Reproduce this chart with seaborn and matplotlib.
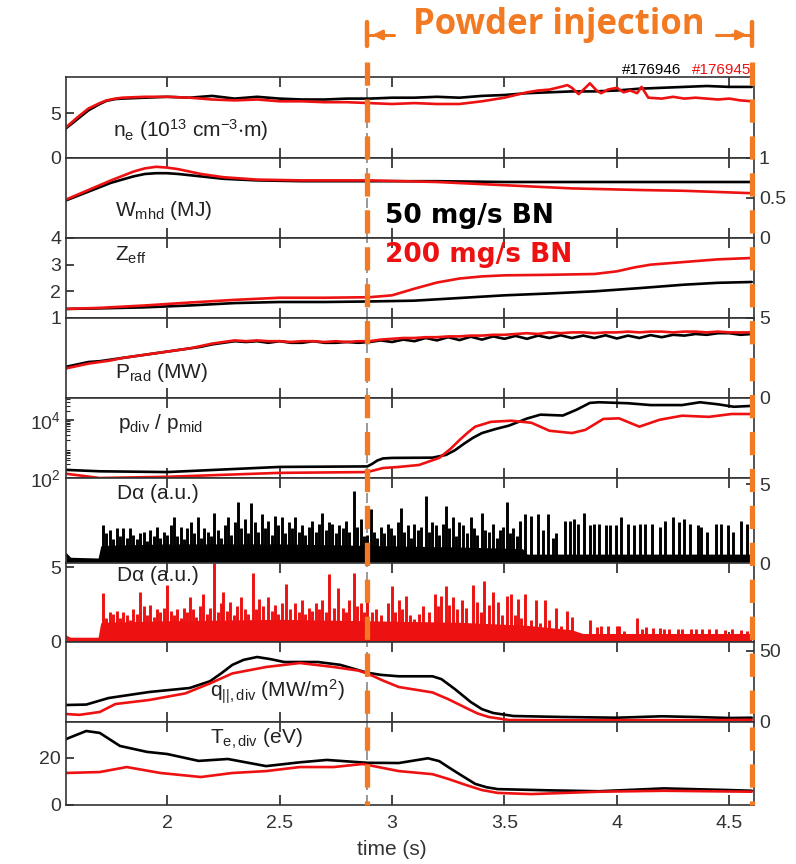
import numpy as np
import pandas as pd
import seaborn as sns
import matplotlib.pyplot as plt
from matplotlib.lines import Line2D
from matplotlib.ticker import LogFormatterMathtext
import matplotlib.transforms as mtransforms

# ---- data ----
# line density (1e13 cm^-3 m)
ne_t_k = [1.55, 1.6, 1.65, 1.7, 1.73, 1.77, 1.8, 1.9, 2.0, 2.1, 2.2, 2.3, 2.4, 2.5, 2.6, 2.7, 2.8,
          2.9, 3.0, 3.1, 3.2, 3.3, 3.4, 3.5, 3.6, 3.7, 3.8, 3.9, 4.0, 4.1, 4.2, 4.3, 4.4, 4.5, 4.6]
ne_k = [3.3, 4.3, 5.3, 6.0, 6.35, 6.55, 6.6, 6.7, 6.8, 6.7, 6.9, 6.6, 6.8, 6.6, 6.5, 6.5, 6.6,
        6.6, 6.7, 6.7, 6.8, 6.7, 6.9, 7.0, 7.2, 7.3, 7.4, 7.4, 7.5, 7.7, 7.8, 7.9, 8.0, 7.9, 7.9]
ne_t_r = [1.55, 1.6, 1.65, 1.7, 1.73, 1.77, 1.8, 1.9, 2.0, 2.1, 2.2, 2.3, 2.4, 2.5, 2.6, 2.7, 2.8,
          2.9, 3.0, 3.1, 3.2, 3.3, 3.4, 3.5, 3.55, 3.6, 3.65, 3.7, 3.75, 3.78, 3.8, 3.83, 3.86,
          3.88, 3.91, 3.93, 3.96, 4.0, 4.03, 4.06, 4.09, 4.11, 4.14, 4.2, 4.25, 4.3, 4.35, 4.4,
          4.45, 4.5, 4.55, 4.6]
ne_r = [3.4, 4.5, 5.5, 6.1, 6.4, 6.6, 6.7, 6.8, 6.8, 6.7, 6.5, 6.4, 6.5, 6.3, 6.3, 6.2, 6.2,
        6.1, 6.0, 6.1, 6.0, 6.0, 6.3, 6.7, 7.0, 7.3, 7.5, 7.6, 7.9, 8.1, 7.8, 7.1, 7.8,
        8.3, 7.5, 7.2, 7.6, 7.8, 7.3, 7.5, 7.2, 7.9, 6.7, 6.6, 6.8, 6.6, 6.7, 6.6,
        6.5, 6.6, 6.4, 6.3]

# stored energy (MJ)
w_t_k = [1.55, 1.65, 1.75, 1.85, 1.9, 1.95, 2.0, 2.05, 2.15, 2.25, 2.4, 2.6, 2.9, 3.2, 3.5, 4.0, 4.6]
w_k = [0.47, 0.58, 0.69, 0.77, 0.80, 0.81, 0.81, 0.80, 0.77, 0.74, 0.72, 0.71, 0.71, 0.71, 0.70,
       0.70, 0.70]
w_t_r = [1.55, 1.65, 1.75, 1.85, 1.9, 1.95, 2.0, 2.05, 2.15, 2.25, 2.4, 2.6, 2.9, 3.2, 3.5, 3.8,
         4.1, 4.3, 4.6]
w_r = [0.48, 0.60, 0.72, 0.83, 0.87, 0.89, 0.88, 0.86, 0.80, 0.76, 0.73, 0.72, 0.72, 0.70, 0.66,
       0.62, 0.60, 0.59, 0.56]

# Zeff
z_t_k = [1.55, 1.7, 1.9, 2.1, 2.3, 2.5, 2.7, 2.9, 3.1, 3.3, 3.5, 3.7, 3.9, 4.1, 4.3, 4.45, 4.6]
z_k = [1.34, 1.36, 1.40, 1.47, 1.56, 1.60, 1.60, 1.62, 1.65, 1.75, 1.85, 1.92, 2.00, 2.12, 2.25, 2.32, 2.35]
z_t_r = [1.55, 1.7, 1.9, 2.1, 2.3, 2.5, 2.7, 2.9, 3.0, 3.1, 3.2, 3.3, 3.4, 3.5, 3.7, 3.9, 4.0,
         4.08, 4.15, 4.3, 4.45, 4.6]
z_r = [1.34, 1.38, 1.47, 1.58, 1.68, 1.76, 1.76, 1.78, 1.85, 2.1, 2.33, 2.48, 2.56, 2.6, 2.62,
       2.65, 2.75, 2.9, 3.0, 3.1, 3.2, 3.25]

# radiated power (MW)
p_t = [1.55, 1.6, 1.65, 1.7, 1.75, 1.8, 1.85, 1.9, 1.95, 2.0, 2.05, 2.1, 2.15, 2.2, 2.25, 2.3,
       2.35, 2.4, 2.45, 2.5, 2.55, 2.6, 2.65, 2.7, 2.75, 2.8, 2.85, 2.9, 2.95, 3.0, 3.05, 3.1,
       3.15, 3.2, 3.25, 3.3, 3.35, 3.4, 3.45, 3.5, 3.55, 3.6, 3.65, 3.7, 3.75, 3.8, 3.85, 3.9,
       3.95, 4.0, 4.05, 4.1, 4.15, 4.2, 4.25, 4.3, 4.35, 4.4, 4.45, 4.5, 4.55, 4.6]
prad_k = [1.95, 2.1, 2.25, 2.3, 2.4, 2.5, 2.6, 2.7, 2.8, 2.9, 3.0, 3.1, 3.2, 3.35, 3.45, 3.55,
          3.5, 3.55, 3.45, 3.55, 3.45, 3.45, 3.55, 3.45, 3.45, 3.5, 3.45, 3.5, 3.6, 3.5, 3.65, 3.55,
          3.75, 3.6, 3.8, 3.62, 3.83, 3.65, 3.85, 3.7, 3.88, 3.7, 3.9, 3.75, 3.92, 3.75, 3.9, 3.75,
          3.92, 3.72, 3.9, 3.75, 3.93, 3.8, 3.95, 3.9, 4.0, 3.95, 4.05, 4.05, 3.95, 4.0]
prad_r = [1.85, 2.0, 2.15, 2.25, 2.35, 2.5, 2.6, 2.7, 2.8, 2.9, 3.0, 3.1, 3.25, 3.4, 3.5, 3.6,
          3.55, 3.6, 3.55, 3.55, 3.5, 3.55, 3.55, 3.5, 3.55, 3.5, 3.55, 3.55, 3.65, 3.7, 3.75, 3.75,
          3.8, 3.8, 3.85, 3.85, 3.9, 3.9, 3.95, 3.95, 4.0, 4.05, 4.0, 4.1, 4.05, 4.1, 4.1, 4.05,
          4.1, 4.1, 4.15, 4.1, 4.15, 4.15, 4.1, 4.15, 4.15, 4.1, 4.15, 4.1, 4.1, 4.1]

# divertor / midplane pressure ratio
pd_t_k = [1.55, 1.7, 2.0, 2.5, 2.89, 2.91, 2.935, 2.96, 3.0, 3.18, 3.24, 3.28, 3.32, 3.36, 3.40,
          3.46, 3.52, 3.60, 3.66, 3.76, 3.82, 3.88, 3.92, 4.05, 4.15, 4.29, 4.37, 4.45, 4.52, 4.6]
pd_k = [190, 170, 160, 240, 250, 300, 400, 470, 490, 500, 620, 900, 1500, 2400, 3500,
        4800, 6300, 11000, 15000, 14000, 22000, 38000, 40000, 37000, 32000, 32000, 40000, 34000,
        28000, 30000]
pd_t_r = [1.55, 1.7, 2.0, 2.5, 2.89, 2.96, 3.03, 3.12, 3.21, 3.26, 3.30, 3.34, 3.37, 3.44, 3.53,
          3.62, 3.70, 3.80, 3.86, 3.94, 4.01, 4.10, 4.19, 4.29, 4.41, 4.51, 4.6]
pd_r = [140, 100, 110, 150, 160, 220, 240, 280, 490, 1000, 2000, 3800, 5800, 8500, 9300, 7900,
        4200, 3500, 4500, 10700, 11200, 5800, 10000, 13800, 12600, 15800, 15800]

# D-alpha spikes (a.u.), shot 176946
da_floor_t_k = [1.55, 1.57, 1.70, 1.712, 2.0, 2.5, 2.9, 3.3, 3.58, 3.6, 4.6]
da_floor_k = [0.55, 0.25, 0.2, 1.0, 1.1, 1.1, 1.0, 0.9, 0.8, 0.45, 0.45]
da_spk_t_k = [1.714, 1.73, 1.745, 1.76, 1.775, 1.79, 1.805, 1.82, 1.835, 1.85, 1.865, 1.88, 1.895,
              1.91, 1.925, 1.94, 1.955, 1.97, 1.985, 2.00, 2.015, 2.03, 2.045, 2.06, 2.075, 2.09,
              2.105, 2.12, 2.135, 2.15, 2.165, 2.18, 2.195, 2.21, 2.225, 2.24, 2.255, 2.27, 2.285,
              2.30, 2.315, 2.33, 2.345, 2.36, 2.375, 2.39, 2.405, 2.42, 2.435, 2.45, 2.465, 2.48,
              2.495, 2.51, 2.525, 2.54, 2.555, 2.57, 2.585, 2.60, 2.615, 2.63, 2.645, 2.66, 2.675,
              2.69, 2.705, 2.72, 2.735, 2.75, 2.765, 2.78, 2.795, 2.81, 2.83, 2.845, 2.86, 2.875,
              2.89, 2.905, 2.92, 2.935, 2.95, 2.965, 2.98, 2.995, 3.01, 3.025, 3.04, 3.055, 3.07,
              3.085, 3.10, 3.115, 3.13, 3.15, 3.165, 3.18, 3.195, 3.21, 3.225, 3.24, 3.255, 3.27,
              3.285, 3.30, 3.315, 3.335, 3.35, 3.365, 3.38, 3.40, 3.415, 3.43, 3.45, 3.465, 3.48,
              3.495, 3.51, 3.525, 3.54, 3.555, 3.57, 3.59, 3.62, 3.65, 3.672, 3.694, 3.716, 3.731,
              3.768, 3.79, 3.808, 3.827, 3.852, 3.879, 3.897, 3.919, 3.95, 3.971, 3.998, 4.02,
              4.05, 4.076, 4.101, 4.124, 4.158, 4.19, 4.216, 4.25, 4.276, 4.299, 4.327, 4.361,
              4.376, 4.402, 4.442, 4.465, 4.494, 4.516, 4.553, 4.58]
da_spk_k = [2.4, 1.9, 2.1, 1.5, 2.2, 1.7, 2.2, 1.6, 2.2, 1.8, 1.5, 1.9, 2.0,
            1.4, 2.1, 1.7, 2.3, 1.6, 2.0, 1.8, 2.4, 2.9, 1.7, 2.3, 1.5, 2.2,
            2.6, 1.9, 2.95, 1.6, 2.2, 2.0, 1.7, 3.2, 2.1, 1.6, 2.4, 2.9, 1.8,
            2.6, 3.9, 2.2, 2.8, 1.9, 3.8, 2.6, 2.0, 3.1, 2.2, 2.7, 1.8, 3.0,
            2.4, 2.9, 1.9, 2.6, 2.2, 2.95, 2.0, 2.4, 1.8, 2.3, 2.7, 2.0, 2.5,
            3.2, 2.1, 2.6, 2.5, 1.9, 2.4, 2.2, 2.7, 2.0, 4.6, 2.3, 2.8, 1.7,
            1.8, 3.4, 2.0, 1.6, 2.3, 1.9, 2.5, 2.2, 1.8, 2.6, 3.5, 2.0, 2.4,
            1.6, 2.5, 2.1, 2.3, 4.25, 2.0, 2.6, 2.4, 1.8, 2.5, 3.6, 2.2, 2.9,
            1.7, 2.6, 2.4, 1.9, 2.9, 2.2, 1.8, 3.2, 2.1, 2.0, 2.5, 1.6, 2.1,
            2.3, 3.9, 1.9, 2.2, 1.7, 2.65, 3.1, 3.0, 3.1, 2.1, 3.1, 1.6, 1.9,
            2.7, 2.7, 2.8, 2.5, 3.2, 2.4, 2.5, 2.5, 2.4, 2.4, 2.4, 2.9,
            2.5, 2.4, 2.5, 2.5, 2.5, 2.3, 2.7, 2.9, 2.6, 2.8, 2.5, 2.4,
            2.3, 2.0, 2.5, 2.5, 2.4, 2.0, 2.7, 2.5]

# D-alpha spikes (a.u.), shot 176945
da_floor_t_r = [1.55, 1.57, 1.70, 1.712, 2.0, 2.5, 2.9, 3.3, 3.6, 3.8, 3.85, 4.6]
da_floor_r = [0.35, 0.2, 0.2, 1.2, 1.3, 1.4, 1.3, 1.2, 1.0, 0.7, 0.45, 0.45]
da_spk_t_r = [1.714, 1.73, 1.745, 1.76, 1.775, 1.79, 1.805, 1.82, 1.835, 1.85, 1.865, 1.88, 1.895,
              1.91, 1.925, 1.94, 1.955, 1.97, 1.985, 2.00, 2.015, 2.03, 2.045, 2.06, 2.075, 2.09,
              2.10, 2.115, 2.13, 2.145, 2.16, 2.175, 2.19, 2.21, 2.225, 2.24, 2.25, 2.265, 2.28,
              2.295, 2.31, 2.33, 2.345, 2.36, 2.38, 2.395, 2.41, 2.425, 2.45, 2.465, 2.48, 2.495,
              2.51, 2.53, 2.545, 2.57, 2.585, 2.60, 2.615, 2.63, 2.645, 2.66, 2.675, 2.69, 2.705,
              2.72, 2.74, 2.76, 2.78, 2.795, 2.81, 2.83, 2.845, 2.86, 2.875, 2.89, 2.91, 2.93,
              2.95, 2.98, 3.00, 3.015, 3.03, 3.045, 3.06, 3.08, 3.10, 3.12, 3.14, 3.165, 3.19,
              3.205, 3.22, 3.24, 3.255, 3.27, 3.29, 3.31, 3.33, 3.36, 3.38, 3.395, 3.41, 3.43,
              3.45, 3.47, 3.49, 3.51, 3.53, 3.545, 3.56, 3.575, 3.59, 3.62, 3.64, 3.66, 3.68,
              3.70, 3.73, 3.75, 3.78, 3.80, 3.83, 3.88, 3.91, 3.93, 3.96, 4.00, 4.01, 4.03,
              4.09, 4.11, 4.13, 4.16, 4.19, 4.21, 4.23, 4.27, 4.29, 4.33, 4.35, 4.38, 4.41,
              4.44, 4.48, 4.51, 4.55, 4.58]
da_spk_r = [3.3, 1.6, 2.0, 1.9, 2.1, 1.6, 2.0, 1.8, 1.5, 2.2, 1.9, 3.35, 2.4,
            1.8, 2.5, 1.7, 2.2, 2.0, 2.3, 3.8, 2.1, 1.8, 2.2, 1.6, 2.3, 2.0,
            3.0, 2.2, 1.7, 2.4, 3.2, 1.9, 2.3, 5.3, 2.0, 2.6, 3.35, 2.1, 2.7,
            1.8, 2.4, 3.0, 2.2, 1.9, 4.6, 2.2, 2.9, 2.4, 3.0, 2.1, 2.5, 1.9,
            2.6, 3.9, 2.2, 2.6, 2.0, 2.85, 1.9, 2.3, 2.1, 2.6, 2.2, 2.85, 2.0,
            4.55, 2.3, 3.6, 2.3, 2.0, 2.8, 4.6, 2.4, 2.6, 2.0, 2.8, 2.0, 2.2,
            1.8, 2.6, 3.75, 2.0, 2.85, 2.2, 3.1, 1.8, 1.55, 1.9, 2.4, 2.0, 3.2,
            2.4, 3.1, 3.75, 2.5, 3.0, 2.2, 2.85, 2.3, 3.8, 2.7, 2.0, 4.1, 2.5,
            3.35, 2.7, 1.8, 3.1, 3.2, 1.8, 2.9, 1.6, 3.2, 1.5, 2.8, 1.3, 2.85,
            1.5, 2.3, 1.1, 2.1, 1.65, 0.6, 1.45, 1.0, 1.05, 1.1, 1.1, 1.1, 0.75,
            1.6, 0.9, 1.0, 0.95, 0.95, 0.85, 0.85, 0.85, 0.85, 0.85, 0.9, 0.9, 0.9,
            0.85, 0.8, 0.9, 0.8, 0.75]

# parallel heat flux (MW/m^2)
q_t_k = [1.55, 1.64, 1.74, 1.92, 2.10, 2.19, 2.24, 2.29, 2.34, 2.40, 2.46, 2.52, 2.67, 2.77,
         2.89, 2.95, 3.03, 3.18, 3.22, 3.28, 3.35, 3.40, 3.45, 3.54, 3.76, 4.0, 4.2, 4.35, 4.5, 4.6]
q_k = [11.9, 12.2, 16.8, 21.0, 23.8, 28.5, 34.0, 40.0, 43.5, 45.5, 44.0, 42.0, 42.0, 40.0,
       34.5, 33.0, 32.0, 32.0, 30.0, 23.0, 14.0, 9.0, 6.3, 4.2, 3.5, 3.0, 4.0, 3.5, 2.8, 3.0]
q_t_r = [1.55, 1.61, 1.70, 1.77, 1.92, 2.08, 2.19, 2.29, 2.44, 2.59, 2.74, 2.85, 2.89, 2.96,
         3.03, 3.18, 3.25, 3.33, 3.38, 3.43, 3.52, 3.8, 4.1, 4.4, 4.6]
q_r = [5.6, 5.0, 7.0, 12.6, 15.4, 20.0, 27.0, 34.0, 38.5, 41.3, 38.5, 36.0, 34.0, 29.0,
       24.5, 20.7, 16.0, 9.8, 6.0, 3.5, 1.4, 1.2, 1.3, 1.3, 1.5]

# divertor electron temperature (eV)
te_t_k = [1.55, 1.64, 1.70, 1.79, 1.91, 2.00, 2.14, 2.27, 2.44, 2.59, 2.71, 2.89, 3.03, 3.16,
          3.21, 3.25, 3.30, 3.37, 3.42, 3.47, 3.69, 3.92, 4.21, 4.5, 4.6]
te_k = [27.8, 31.2, 30.4, 24.9, 22.4, 21.5, 18.6, 19.4, 16.4, 18.0, 19.0, 17.8, 17.7, 19.7,
        18.5, 16.0, 13.0, 8.9, 7.5, 6.7, 6.2, 5.8, 7.0, 6.3, 6.0]
te_t_r = [1.55, 1.70, 1.82, 1.97, 2.15, 2.29, 2.44, 2.59, 2.74, 2.87, 2.95, 3.03, 3.18, 3.25,
          3.33, 3.40, 3.47, 3.62, 3.92, 4.21, 4.6]
te_r = [13.5, 13.9, 16.0, 13.5, 11.8, 13.5, 14.3, 16.0, 16.0, 17.3, 15.8, 14.3, 13.0, 11.0,
        8.4, 6.3, 5.1, 4.6, 5.6, 6.0, 5.6]

t_inj_start, t_inj_end = 2.89, 4.6
x_ticks = [2, 2.5, 3, 3.5, 4, 4.5]
x_tick_labels = ["2", "2.5", "3", "3.5", "4", "4.5"]
shots = ["#176946", "#176945"]

# ---- style ----
sns.set_style("ticks")
plt.rcParams["font.family"] = ["Liberation Sans", "DejaVu Sans"]
plt.rcParams["mathtext.fontset"] = "custom"
plt.rcParams["mathtext.rm"] = "Liberation Sans"
plt.rcParams["mathtext.it"] = "Liberation Sans"
plt.rcParams["mathtext.bf"] = "Liberation Sans:bold"
plt.rcParams["mathtext.default"] = "regular"

BLACK = "#000000"
RED = "#ee1111"
ORANGE = "#f27a22"
LW = 1.9

fig = plt.figure(figsize=(7.96, 8.64), dpi=100)
gs = fig.add_gridspec(9, 1, left=66 / 796, right=754 / 796, top=1 - 77 / 864, bottom=1 - 805 / 864,
                      hspace=0, height_ratios=[81, 80, 80, 80, 80, 85, 79, 80, 83])
axes = [fig.add_subplot(gs[i]) for i in range(9)]


def line(ax, t, v, color):
    sns.lineplot(x=t, y=v, ax=ax, color=color, lw=LW, solid_joinstyle="round")


line(axes[0], ne_t_k, ne_k, BLACK)
line(axes[0], ne_t_r, ne_r, RED)
line(axes[1], w_t_k, w_k, BLACK)
line(axes[1], w_t_r, w_r, RED)
line(axes[2], z_t_k, z_k, BLACK)
line(axes[2], z_t_r, z_r, RED)
line(axes[3], p_t, prad_k, BLACK)
line(axes[3], p_t, prad_r, RED)
line(axes[4], pd_t_k, pd_k, BLACK)
line(axes[4], pd_t_r, pd_r, RED)
line(axes[7], q_t_k, q_k, BLACK)
line(axes[7], q_t_r, q_r, RED)
line(axes[8], te_t_k, te_k, BLACK)
line(axes[8], te_t_r, te_r, RED)

# D-alpha traces: floor + spikes
for ax, ft, fv, st, sv, c in [(axes[5], da_floor_t_k, da_floor_k, da_spk_t_k, da_spk_k, BLACK),
                              (axes[6], da_floor_t_r, da_floor_r, da_spk_t_r, da_spk_r, RED)]:
    ax.fill_between(ft, 0, fv, color=c, lw=0)
    line(ax, ft, fv, c)
    ax.vlines(st, 0, sv, color=c, lw=2.1)

# axis setup
ylims = [(0, 9), (0, 1), (1, 4), (0, 5), (100, 5.6e4), (0, 5.4), (0, 5.3), (0, 56), (0, 35)]
yticks = [[0, 5], [0, 0.5, 1], [1, 2, 3, 4], [0, 5], [1e2, 1e4], [0, 5], [0, 5], [0, 50], [0, 20]]
ytick_labels = [["0", "5"], ["0", "0.5", "1"], ["1", "2", "3", "4"], ["0", "5"], None,
                ["0", "5"], ["0", "5"], ["0", "50"], ["0", "20"]]
sides = ["left", "right", "left", "right", "left", "right", "left", "right", "left"]

for i, ax in enumerate(axes):
    if i == 4:
        ax.set_yscale("log")
        ax.yaxis.set_major_formatter(LogFormatterMathtext())
    ax.set_xlim(1.55, 4.61)
    ax.set_ylim(*ylims[i])
    ax.set_xticks(x_ticks)
    ax.set_xticklabels(x_tick_labels)
    ax.set_yticks(yticks[i])
    if ytick_labels[i] is not None:
        ax.set_yticklabels(ytick_labels[i])
    ax.tick_params(axis="x", direction="in", top=True, bottom=True, length=7, width=1.2,
                   labelbottom=(i == 8), labelsize=14, pad=7, labelcolor="#333333")
    left = sides[i] == "left"
    ax.tick_params(axis="y", which="both", direction="in", left=left, right=not left,
                   labelleft=left, labelright=not left, length=6, width=1.2, labelsize=14,
                   labelcolor="#333333")
    ax.tick_params(axis="y", which="minor", length=3, width=0.8)
    for s in ax.spines.values():
        s.set_linewidth(1.2)
        s.set_color("#333333")
    ax.set_xlabel("")
    ax.set_ylabel("")
    ax.axvline(t_inj_start, color="#888888", lw=1.2, ls=(0, (6, 3)), zorder=1)

axes[8].set_xlabel("time (s)", fontsize=15, color="#333333")
axes[8].xaxis.set_label_coords((392 - 66) / 688, -0.42)

# panel labels
labels = [
    (0, 0.068, 0.35, r"n$_e$ (10$^{13}$ cm$^{-3}$$\cdot$m)"),
    (1, 0.071, 0.35, r"W$_{mhd}$ (MJ)"),
    (2, 0.071, 0.78, r"Z$_{eff}$"),
    (3, 0.071, 0.32, r"P$_{rad}$ (MW)"),
    (4, 0.076, 0.68, r"p$_{div}$ / p$_{mid}$"),
    (5, 0.074, 0.82, "D\u03b1 (a.u.)"),
    (6, 0.074, 0.84, "D\u03b1 (a.u.)"),
    (7, 0.210, 0.38, r"q$_{||,div}$ (MW/m$^2$)"),
    (8, 0.210, 0.80, r"T$_{e,div}$ (eV)"),
]
for i, x, y, s in labels:
    axes[i].text(x, y, s, transform=axes[i].transAxes, fontsize=15, va="center", ha="left",
                 zorder=5, color="#222222")

# shot numbers
fig.text(681 / 796, 1 - 70 / 864, shots[0], color=BLACK, fontsize=11, ha="right", va="center")
fig.text(751 / 796, 1 - 70 / 864, shots[1], color=RED, fontsize=11, ha="right", va="center")

# legend-like annotations
fig.text(385 / 796, 1 - 216 / 864, "50 mg/s BN", color=BLACK, fontsize=19, fontweight="bold",
         family="DejaVu Sans", ha="left", va="center")
fig.text(385 / 796, 1 - 255 / 864, "200 mg/s BN", color=RED, fontsize=19, fontweight="bold",
         family="DejaVu Sans", ha="left", va="center")

# orange injection window markers
trans = mtransforms.blended_transform_factory(axes[0].transData, fig.transFigure)
for tx in [t_inj_start, t_inj_end]:
    ln = Line2D([tx, tx], [1 - 62 / 864, 1 - 805 / 864], transform=trans, color=ORANGE, lw=3.8,
                dashes=(4.4, 2.6), zorder=20)
    fig.add_artist(ln)
    fig.add_artist(Line2D([tx, tx], [1 - 22 / 864, 1 - 46 / 864], transform=trans, color=ORANGE,
                          lw=3.2, zorder=20))
ya = 1 - 35 / 864
fig.add_artist(Line2D([t_inj_start, 3.01], [ya, ya], transform=trans, color=ORANGE, lw=2.2))
fig.add_artist(Line2D([4.44, t_inj_end], [ya, ya], transform=trans, color=ORANGE, lw=2.2))
axes[0].annotate("", xy=(t_inj_start + 0.01, ya), xytext=(2.96, ya), xycoords=trans,
                 textcoords=trans, annotation_clip=False,
                 arrowprops=dict(arrowstyle="-|>", color=ORANGE, lw=2.2, mutation_scale=14))
axes[0].annotate("", xy=(t_inj_end - 0.01, ya), xytext=(4.50, ya), xycoords=trans,
                 textcoords=trans, annotation_clip=False,
                 arrowprops=dict(arrowstyle="-|>", color=ORANGE, lw=2.2, mutation_scale=14))
fig.text(3.74, 1 - 25 / 864, "Powder injection", transform=trans, color=ORANGE, fontsize=25,
         fontweight="bold", family="Open Sans", ha="center", va="center")

fig.savefig("out.png", dpi=100)
